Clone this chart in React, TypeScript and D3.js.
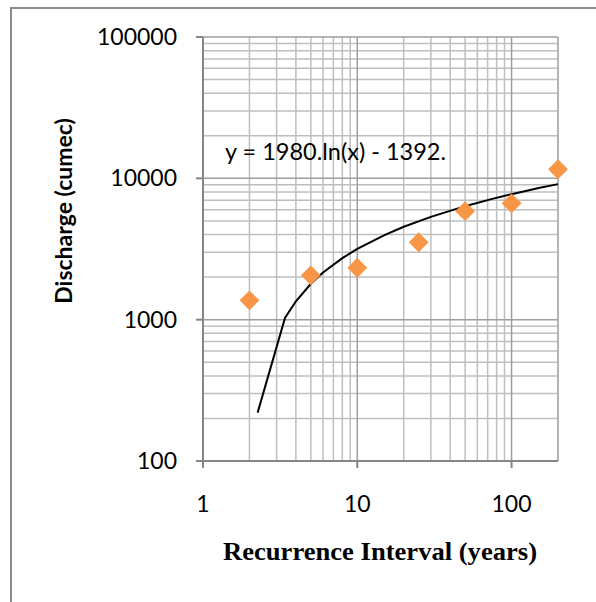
import * as d3 from 'd3'

// observed points (return period in years, discharge in cumec)
const intervals = [2, 5, 10, 25, 50, 100, 200]
const discharge = [1370, 2060, 2330, 3530, 5860, 6650, 11600]

// log trendline, as drawn on the chart
const trendX = [2.26, 3.4, 4, 5, 6, 8, 10, 15, 20, 30, 50, 75, 100, 150, 200]
const trendY = [220, 1030, 1350, 1795, 2155, 2725, 3170, 3970, 4540, 5340, 6355, 7155, 7725, 8530, 9100]

const xTicks = [1, 10, 100]
const yTicks = [100, 1000, 10000, 100000]
const equation = 'y = 1980.ln(x) - 1392.'

const W = 596
const H = 602
const sans = 'Lato, "Open Sans", sans-serif'

export default function App() {
  const x = d3.scaleLog().domain([1, 200]).range([203, 558])
  const y = d3.scaleLog().domain([100, 100000]).range([461, 37])

  // minor grid values between majors
  const xMinor: number[] = []
  for (const d of [1, 10, 100]) for (let k = 2; k <= 9; k++) if (d * k <= 200) xMinor.push(d * k)
  const yMinor: number[] = []
  for (const d of [100, 1000, 10000]) for (let k = 2; k <= 9; k++) yMinor.push(d * k)

  const line = d3.line<number>()
    .x((_, i) => x(trendX[i]))
    .y(d => y(d))

  const diamond = d3.symbol().type(d3.symbolDiamond2).size(250)()

  const [x0, x1] = x.range()
  const [y0, y1] = y.range()

  return (
    <svg width={W} height={H} style={{ position: 'absolute', left: 0, top: 0, background: '#fff' }}>
      <rect x={11} y={8} width={W} height={H} fill="#fff" stroke="#8c8c8c" strokeWidth={2} />

      {/* minor grid */}
      {xMinor.map(v => (
        <line key={'xm' + v} x1={x(v)} x2={x(v)} y1={y1} y2={y0} stroke="#bebebe" strokeWidth={1.5} />
      ))}
      {yMinor.map(v => (
        <line key={'ym' + v} x1={x0} x2={x1} y1={y(v)} y2={y(v)} stroke="#bebebe" strokeWidth={1.5} />
      ))}
      {/* major grid */}
      {xTicks.map(v => (
        <line key={'xM' + v} x1={x(v)} x2={x(v)} y1={y1} y2={y0} stroke="#9e9e9e" strokeWidth={1.5} />
      ))}
      {yTicks.map(v => (
        <line key={'yM' + v} x1={x0} x2={x1} y1={y(v)} y2={y(v)} stroke="#9e9e9e" strokeWidth={1.5} />
      ))}
      <line x1={x1} x2={x1} y1={y1} y2={y0} stroke="#b4b4b4" strokeWidth={2} />

      {/* axes */}
      <line x1={x0} x2={x0} y1={y1} y2={y0 + 7} stroke="#868686" strokeWidth={2} />
      <line x1={x0 - 7} x2={x1} y1={y0} y2={y0} stroke="#868686" strokeWidth={2} />
      {yTicks.map(v => (
        <line key={'yt' + v} x1={x0 - 7} x2={x0} y1={y(v)} y2={y(v)} stroke="#868686" strokeWidth={2} />
      ))}
      {xTicks.map(v => (
        <line key={'xt' + v} x1={x(v)} x2={x(v)} y1={y0} y2={y0 + 7} stroke="#868686" strokeWidth={2} />
      ))}

      {yTicks.map(v => (
        <text key={'yl' + v} x={x0 - 26} y={y(v)} dy="0.35em" textAnchor="end"
          fontFamily={sans} fontSize={23} fill="#000">{v}</text>
      ))}
      {xTicks.map(v => (
        <text key={'xl' + v} x={x(v)} y={512} textAnchor="middle"
          fontFamily={sans} fontSize={23} fill="#000">{v}</text>
      ))}

      {/* trendline */}
      <path d={line(trendY) ?? ''} fill="none" stroke="#000" strokeWidth={2} />

      {/* points */}
      {intervals.map((v, i) => (
        <path key={'p' + v} d={diamond ?? ''} transform={`translate(${x(v)},${y(discharge[i])})`} fill="#f79646" />
      ))}

      <text x={225} y={160} fontFamily={sans} fontSize={23.5} fill="#000">{equation}</text>

      <text transform="translate(72,211) rotate(-90)" textAnchor="middle"
        fontFamily={sans} fontSize={23} fontWeight="bold" fill="#000">Discharge (cumec)</text>
      <text x={380} y={560} textAnchor="middle" fontFamily='"Liberation Serif", "Times New Roman", serif'
        fontSize={25} fontWeight="bold" fill="#000" textLength={314} lengthAdjust="spacingAndGlyphs">Recurrence Interval (years)</text>
    </svg>
  )
}
